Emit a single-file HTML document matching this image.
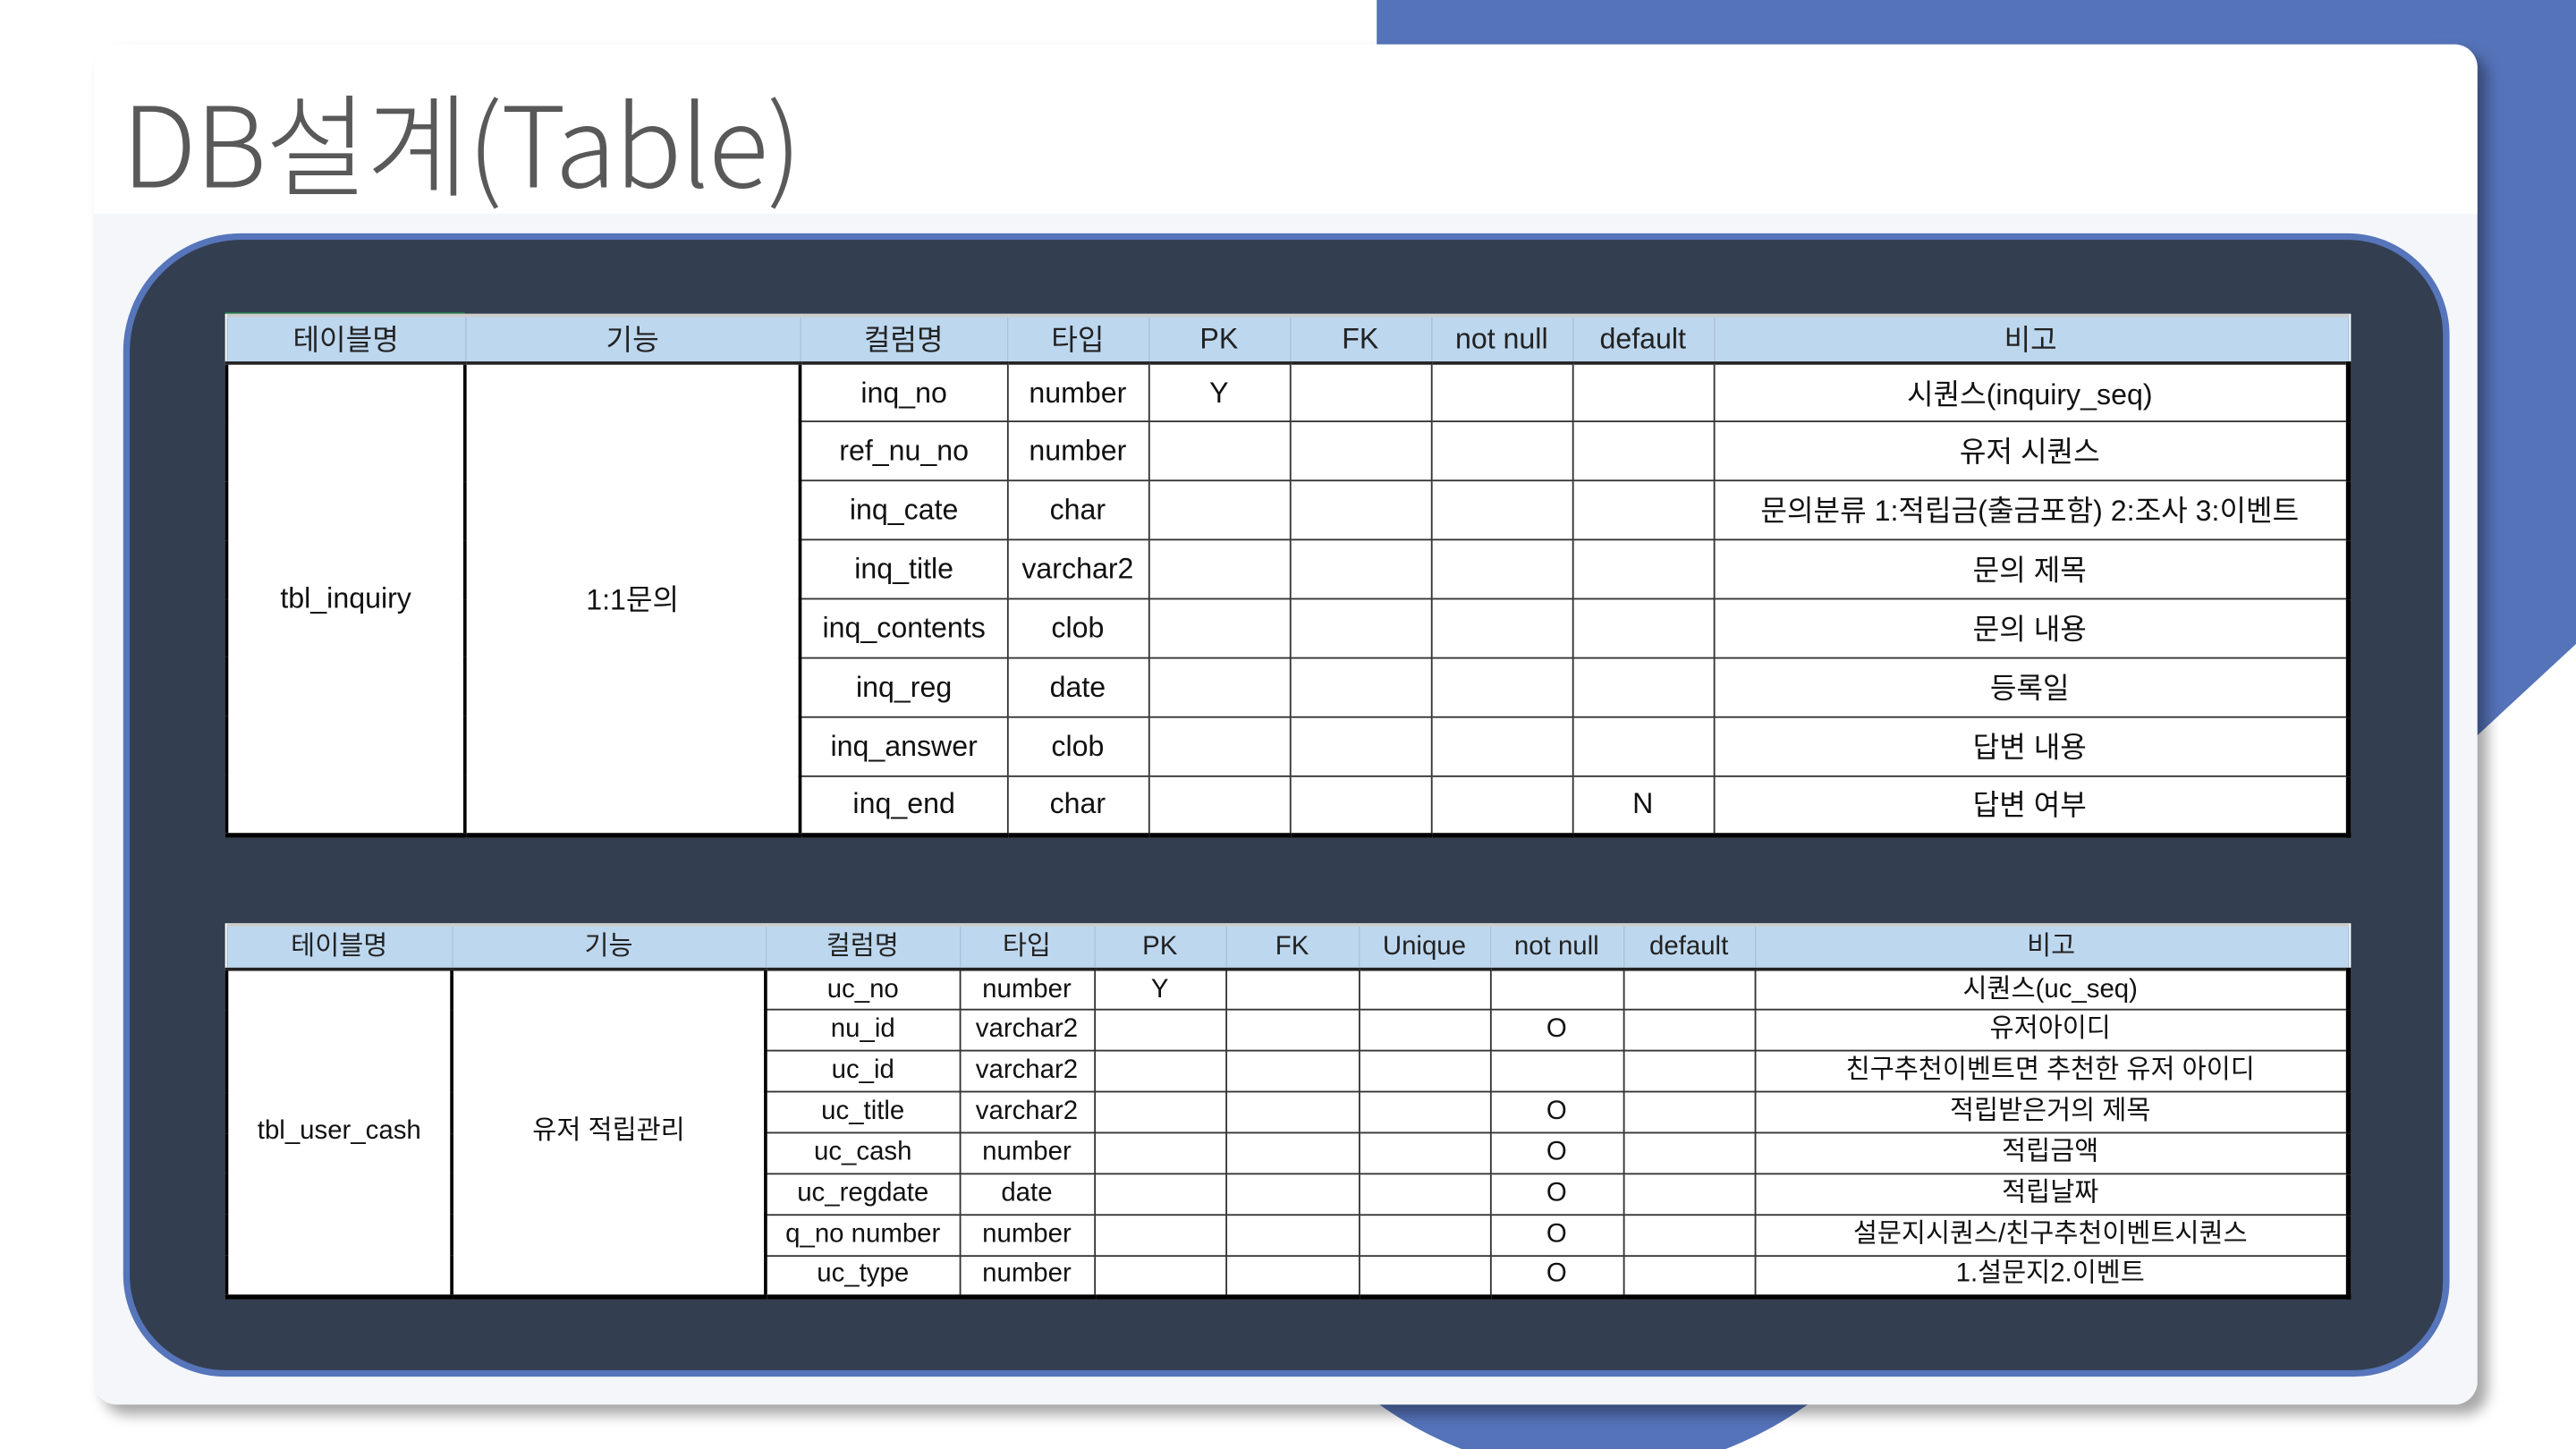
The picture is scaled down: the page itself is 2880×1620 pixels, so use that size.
<!DOCTYPE html>
<html><head><meta charset="utf-8">
<style>
html,body{margin:0;padding:0;width:2880px;height:1620px;overflow:hidden;background:#fff;}
#w{position:absolute;left:0;top:0;width:1568px;height:882px;transform:scale(1.83673);transform-origin:0 0;font-family:"Liberation Sans","Noto Sans CJK KR",sans-serif;}
.abs{position:absolute;}
table{position:absolute;border-collapse:collapse;table-layout:fixed;background:#fff;color:#111;}
td{border:1px solid #333;text-align:center;padding:0;white-space:nowrap;overflow:hidden;}
tr.h td{background:#bdd7ee;border-left:1px solid #a9c4dc;border-right:1px solid #a9c4dc;border-top:2px solid #ccc;border-bottom:2px solid #222;color:#222;}
td.k{border-right:2px solid #000;border-left:2px solid #000;}
td.r{border-right:3px solid #000;}
tr.l td{border-bottom:3px solid #000;}
#t1 td{font-size:17.5px;}
#t1 tr{height:35.9px;}
#t1 tr.h{height:29px;}
#t2 td{font-size:16px;line-height:18px;}
#t2 tr{height:24.9px;}
#t2 tr.h{height:27px;}
</style></head><body>
<div id="w">
  <div class="abs" style="left:838px;top:0;width:730px;height:40px;background:#5573b9;"></div>
  <svg class="abs" style="left:0;top:0" width="1568" height="882"><polygon points="1480,20 1568,20 1568,392 1500,455 1480,455" fill="#5573b9"/><circle cx="970" cy="674" r="223" fill="#5573b9"/></svg>
  <div class="abs" style="left:57px;top:27px;width:1451px;height:828px;background:#f4f6f9;border-radius:14px;box-shadow:6px 6px 8px rgba(0,0,0,0.35);overflow:hidden;">
    <div class="abs" style="left:0;top:0;width:1451px;height:103px;background:#fff;"></div>
  </div>
  <div class="abs" style="left:74px;top:40px;font-size:68px;color:#595959;font-family:'Noto Sans CJK KR','Liberation Sans',sans-serif;font-weight:300;letter-spacing:-1px;line-height:90px;">DB설계(Table)</div>
  <div class="abs" style="left:75px;top:142px;width:1408px;height:688px;background:#333e50;border:4px solid #5675ba;border-radius:72px 62px 58px 62px;"></div>
  <div class="abs" style="left:137px;top:190px;width:146px;height:3px;background:#217346;"></div>

  <table id="t1" style="left:137px;top:191px;width:1291px;">
    <colgroup><col style="width:145px"><col style="width:204px"><col style="width:126px"><col style="width:86px"><col style="width:86px"><col style="width:86px"><col style="width:86px"><col style="width:86px"><col style="width:386px"></colgroup>
    <tr class="h"><td>테이블명</td><td>기능</td><td>컬럼명</td><td>타입</td><td>PK</td><td>FK</td><td>not null</td><td>default</td><td class="r">비고</td></tr>
    <tr><td class="k" rowspan="8" style="border-bottom:3px solid #000">tbl_inquiry</td><td class="k" rowspan="8" style="border-bottom:3px solid #000">1:1문의</td><td>inq_no</td><td>number</td><td>Y</td><td></td><td></td><td></td><td class="r">시퀀스(inquiry_seq)</td></tr>
    <tr><td>ref_nu_no</td><td>number</td><td></td><td></td><td></td><td></td><td class="r">유저 시퀀스</td></tr>
    <tr><td>inq_cate</td><td>char</td><td></td><td></td><td></td><td></td><td class="r">문의분류 1:적립금(출금포함) 2:조사 3:이벤트</td></tr>
    <tr><td>inq_title</td><td>varchar2</td><td></td><td></td><td></td><td></td><td class="r">문의 제목</td></tr>
    <tr><td>inq_contents</td><td>clob</td><td></td><td></td><td></td><td></td><td class="r">문의 내용</td></tr>
    <tr><td>inq_reg</td><td>date</td><td></td><td></td><td></td><td></td><td class="r">등록일</td></tr>
    <tr><td>inq_answer</td><td>clob</td><td></td><td></td><td></td><td></td><td class="r">답변 내용</td></tr>
    <tr class="l"><td>inq_end</td><td>char</td><td></td><td></td><td></td><td>N</td><td class="r">답변 여부</td></tr>
  </table>

  <table id="t2" style="left:137px;top:562px;width:1291px;">
    <colgroup><col style="width:137px"><col style="width:191px"><col style="width:118px"><col style="width:82px"><col style="width:80px"><col style="width:81px"><col style="width:80px"><col style="width:81px"><col style="width:80px"><col style="width:361px"></colgroup>
    <tr class="h"><td>테이블명</td><td>기능</td><td>컬럼명</td><td>타입</td><td>PK</td><td>FK</td><td>Unique</td><td>not null</td><td>default</td><td class="r">비고</td></tr>
    <tr><td class="k" rowspan="8" style="border-bottom:3px solid #000">tbl_user_cash</td><td class="k" rowspan="8" style="border-bottom:3px solid #000">유저 적립관리</td><td>uc_no</td><td>number</td><td>Y</td><td></td><td></td><td></td><td></td><td class="r">시퀀스(uc_seq)</td></tr>
    <tr><td>nu_id</td><td>varchar2</td><td></td><td></td><td></td><td>O</td><td></td><td class="r">유저아이디</td></tr>
    <tr><td>uc_id</td><td>varchar2</td><td></td><td></td><td></td><td></td><td></td><td class="r">친구추천이벤트면 추천한 유저 아이디</td></tr>
    <tr><td>uc_title</td><td>varchar2</td><td></td><td></td><td></td><td>O</td><td></td><td class="r">적립받은거의 제목</td></tr>
    <tr><td>uc_cash</td><td>number</td><td></td><td></td><td></td><td>O</td><td></td><td class="r">적립금액</td></tr>
    <tr><td>uc_regdate</td><td>date</td><td></td><td></td><td></td><td>O</td><td></td><td class="r">적립날짜</td></tr>
    <tr><td>q_no number</td><td>number</td><td></td><td></td><td></td><td>O</td><td></td><td class="r">설문지시퀀스/친구추천이벤트시퀀스</td></tr>
    <tr class="l"><td>uc_type</td><td>number</td><td></td><td></td><td></td><td>O</td><td></td><td class="r">1.설문지2.이벤트</td></tr>
  </table>
</div>
</body></html>
